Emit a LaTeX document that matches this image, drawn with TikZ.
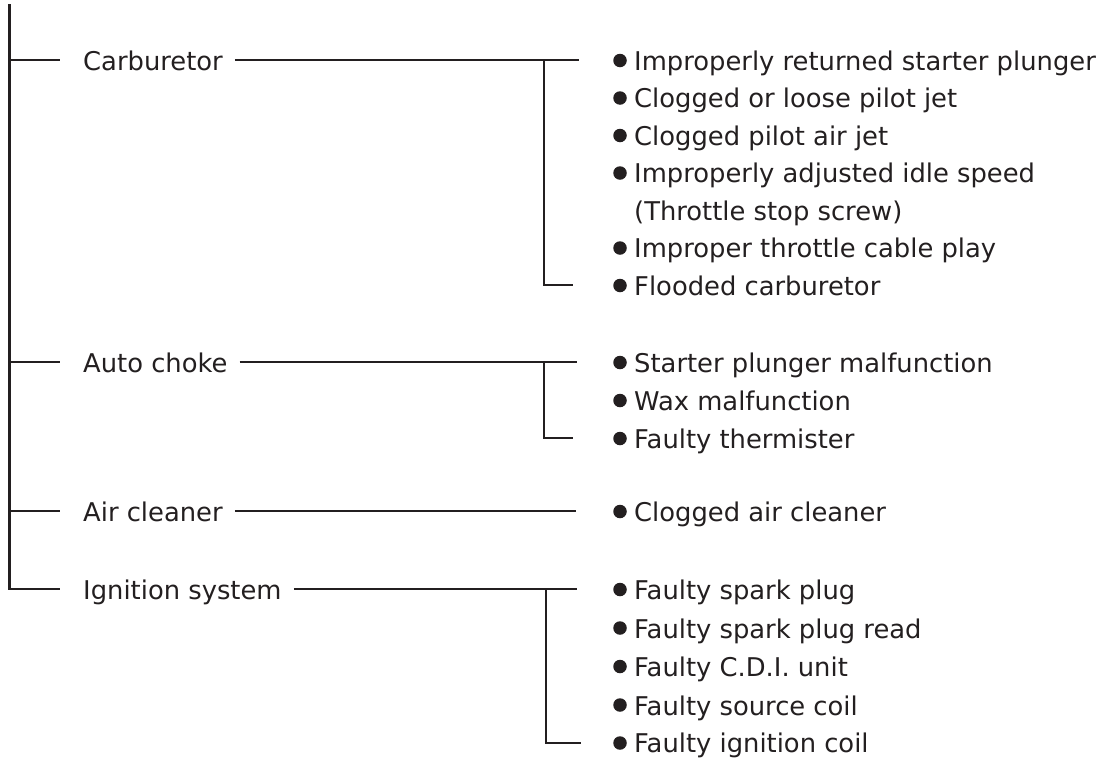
\documentclass[tikz,border=0pt]{standalone}
\usepackage{fontspec}
\setmainfont{DejaVu Sans}
\definecolor{ink}{HTML}{231F20}
\tikzset{
  txt/.style={anchor=base west, inner sep=0pt, text=ink, font=\fontsize{25.8}{30}\selectfont},
  dotmark/.style={circle, fill=ink, minimum size=13.5pt, inner sep=0pt},
  wire/.style={draw=ink, line width=2.4pt}
}
\begin{document}
\begin{tikzpicture}[x=1pt,y=-1pt]
\useasboundingbox (0,0) rectangle (1111,758);
% main trunk
\coordinate (top) at (9.5,4);
\coordinate (jc) at (9.5,60);
\coordinate (ja) at (9.5,362);
\coordinate (jr) at (9.5,511);
\coordinate (ji) at (9.5,589);
\draw[wire] (top) -- (ji) -- (60,589);
\draw[wire] (jc) -- (60,60);
\draw[wire] (ja) -- (60,362);
\draw[wire] (jr) -- (60,511);
% labels
\node[txt] (carb) at (83,70) {Carburetor};
\node[txt] (auto) at (83,372) {Auto choke};
\node[txt] (air) at (83,521) {Air cleaner};
\node[txt] (ign) at (83,599) {Ignition system};
% branch coordinates
\coordinate (bc) at (544,60);
\coordinate (bce) at (579,60);
\coordinate (bcb) at (544,285);
\coordinate (bcbe) at (573,285);
\coordinate (ba) at (544,362);
\coordinate (bae) at (577,362);
\coordinate (bab) at (544,438);
\coordinate (babe) at (573,438);
\coordinate (bre) at (576,511);
\coordinate (bi) at (546,589);
\coordinate (bie) at (577,589);
\coordinate (bib) at (546,743);
\coordinate (bibe) at (581,743);
\draw[wire] ([xshift=12pt]carb.east |- bc) -- (bce);
\draw[wire] (bc) -- (bcb) -- (bcbe);
\draw[wire] ([xshift=12pt]auto.east |- ba) -- (bae);
\draw[wire] (ba) -- (bab) -- (babe);
\draw[wire] ([xshift=12pt]air.east |- bre) -- (bre);
\draw[wire] ([xshift=12pt]ign.east |- bi) -- (bie);
\draw[wire] (bi) -- (bib) -- (bibe);
% items: Carburetor
\node[dotmark] (d1) at (620,60.5) {};
\node[txt] (c1) at (634,70) {Improperly returned starter plunger};
\node[dotmark] (d2) at (620,98) {};
\node[txt] (c2) at (634,107.5) {Clogged or loose pilot jet};
\node[dotmark] (d3) at (620,135.5) {};
\node[txt] (c3) at (634,145) {Clogged pilot air jet};
\node[dotmark] (d4) at (620,173) {};
\node[txt] (c4) at (634,182.5) {Improperly adjusted idle speed};
\node[txt] (c5) at (634,220) {(Throttle stop screw)};
\node[dotmark] (d6) at (620,248) {};
\node[txt] (c6) at (634,257.5) {Improper throttle cable play};
\node[dotmark] (d7) at (620,285.5) {};
\node[txt] (c7) at (634,295) {Flooded carburetor};
% Auto choke
\node[dotmark] (e1) at (620,362.5) {};
\node[txt] (a1) at (634,372) {Starter plunger malfunction};
\node[dotmark] (e2) at (620,400.5) {};
\node[txt] (a2) at (634,410) {Wax malfunction};
\node[dotmark] (e3) at (620,438.5) {};
\node[txt] (a3) at (634,448) {Faulty thermister};
% Air cleaner
\node[dotmark] (f1) at (620,511.5) {};
\node[txt] (r1) at (634,521) {Clogged air cleaner};
% Ignition
\node[dotmark] (g1) at (620,589.5) {};
\node[txt] (i1) at (634,599.5) {Faulty spark plug};
\node[dotmark] (g2) at (620,628) {};
\node[txt] (i2) at (634,638) {Faulty spark plug read};
\node[dotmark] (g3) at (620,666.5) {};
\node[txt] (i3) at (634,676.5) {Faulty C.D.I. unit};
\node[dotmark] (g4) at (620,705) {};
\node[txt] (i4) at (634,715) {Faulty source coil};
\node[dotmark] (g5) at (620,743) {};
\node[txt] (i5) at (634,752.5) {Faulty ignition coil};
\end{tikzpicture}
\end{document}
